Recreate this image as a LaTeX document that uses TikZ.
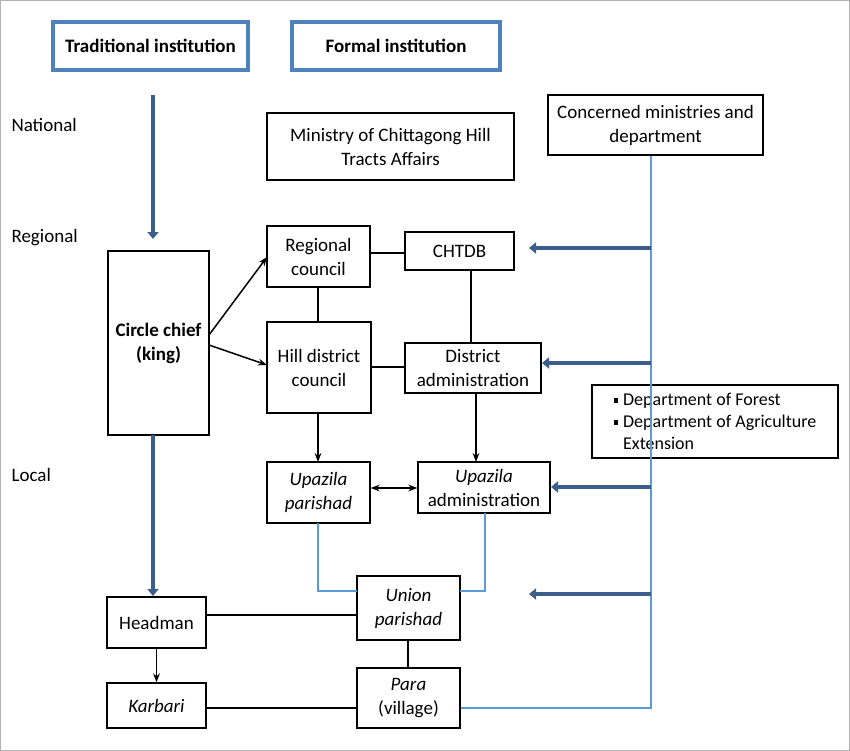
\documentclass[tikz,border=0pt]{standalone}
\usepackage{fontspec}
\setmainfont{Carlito}
\usetikzlibrary{arrows.meta}
\definecolor{hb}{HTML}{4F81BD}
\definecolor{tb}{HTML}{3B5E8C}
\definecolor{lb}{HTML}{5B9BD5}
\begin{document}
\begin{tikzpicture}[x=1pt,y=-1pt,
 bx/.style={draw,line width=1.3pt,align=center,inner sep=1pt,font=\fontsize{19}{24}\selectfont},
 hd/.style={draw=hb,line width=3.5pt,font=\fontsize{19}{22}\selectfont\bfseries},
 lab/.style={font=\fontsize{19}{22}\selectfont,anchor=west},
 thk/.style={tb,line width=4.5pt,-{Triangle[length=7pt,width=11pt]}},
 ar/.style={line width=1.5pt,-{Stealth[length=9pt]}},
 ln/.style={line width=1.3pt},
 bl/.style={lb,line width=1.2pt}]
\useasboundingbox (0,0) rectangle (850,751);
\draw[gray!60,line width=1.5pt] (0,0) rectangle (850,751);
\newcommand\bxn[6]{\node[bx,minimum width=#4-#2,minimum height=#5-#3] (#1) at ({(#2+#4)/2},{(#3+#5)/2}) {#6};}
\newcommand\mybul{\raisebox{3pt}{\rule{4.5pt}{4.5pt}}\hspace{5pt}}
\node[hd,minimum width=195,minimum height=48] (trad) at (150.5,46) {Traditional institution};
\node[hd,minimum width=208,minimum height=48] (form) at (396,46) {Formal institution};
\node[lab] (nat) at (8,125) {National};
\node[lab] (reg) at (8,238) {Regional};
\node[lab] (loc) at (8,475) {Local};
\bxn{min}{267}{113}{514}{180}{Ministry of Chittagong Hill\\Tracts Affairs}
\bxn{con}{548}{95}{763}{155}{Concerned ministries and\\department}
\bxn{rc}{267}{226}{370}{287}{Regional\\council}
\bxn{chtdb}{405}{232}{514}{270}{CHTDB}
\bxn{cc}{108}{251}{209}{435}{\textbf{Circle chief}\\\textbf{(king)}}
\bxn{hdc}{267}{322}{371}{413}{Hill district\\council}
\bxn{da}{405}{343}{541}{393}{District\\administration}
\node[bx,align=left,minimum width=246,minimum height=73,font=\fontsize{18}{22}\selectfont] (dep) at (715,421.5) {\mybul Department of Forest\\\mybul Department of Agriculture\\\hspace{9.5pt}Extension};
\bxn{up}{267}{462}{370}{523}{\textit{Upazila}\\\textit{parishad}}
\bxn{ua}{418}{462}{550}{513}{\textit{Upazila}\\administration}
\bxn{hm}{107}{597}{206}{648}{Headman}
\bxn{kb}{107}{683}{206}{728}{\textit{Karbari}}
\bxn{un}{357}{576}{460}{640}{\textit{Union}\\\textit{parishad}}
\bxn{pa}{357}{668}{460}{728}{\textit{Para}\\(village)}
\coordinate (t0) at (153,95);
\draw[thk] (t0) -- (153,239);
\coordinate (t1) at (153,435);
\draw[thk] (t1) -- (153,596);
\draw[bl] (con.south -| 651,0) coordinate (v0) -- (651,708) coordinate (v1) -- (v1 -| pa.east);
\foreach \y/\e in {248/529,363/542,487/551,594/529}{\coordinate (a\y) at (651,\y); \draw[thk] (a\y) -- (\e,\y);}
\draw[bl] (318,523) -- (318,591) -- (357,591);
\draw[bl] (485,513) -- (485,591) -- (460,591);
\draw[ln] (rc.east |- 0,253) -- (chtdb.west |- 0,253);
\draw[ln] (318,287) -- (318,322);
\draw[ln] (471,270) -- (471,343);
\draw[ln] (hdc.east |- 0,367) -- (da.west |- 0,367);
\draw[ar] (318,413) -- (318,462);
\draw[ar] (476,393) -- (476,462);
\draw[line width=1.5pt,{Stealth[length=9pt]}-{Stealth[length=9pt]}] (up.east |- 0,488) -- (ua.west |- 0,488);
\draw[ar] (209,335) -- (267,257);
\draw[ar] (209,345) -- (267,365);
\draw[ar] (hm.south) -- (kb.north);
\draw[ln] (hm.east |- 0,615) -- (un.west |- 0,615);
\draw[ln] (kb.east |- 0,708) -- (pa.west |- 0,708);
\draw[ln] (408,640) -- (408,668);
\end{tikzpicture}
\end{document}
